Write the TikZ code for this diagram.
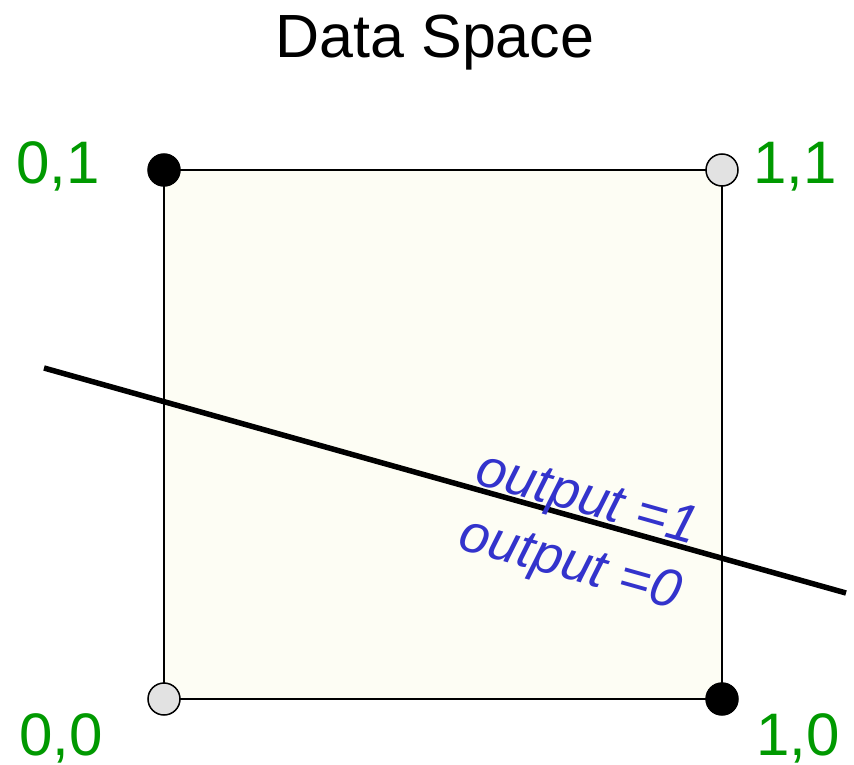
\documentclass[tikz,border=0pt]{standalone}
\usepackage{fontspec}
\setmainfont{Liberation Sans}
\definecolor{lblgreen}{RGB}{0,153,0}
\definecolor{outblue}{RGB}{51,51,204}
\definecolor{sqfill}{RGB}{253,253,244}
\definecolor{dotgrey}{RGB}{226,226,226}
\begin{document}
\begin{tikzpicture}[x=1pt,y=-1pt,
  corner/.style={text=lblgreen,font=\fontsize{60}{70}\selectfont,anchor=base,inner sep=0,text depth=0pt},
  outlbl/.style={text=outblue,font=\itshape\fontsize{54}{60}\selectfont,anchor=base,inner sep=0,rotate=-15.67},
  blackdot/.style={circle,draw=black,line width=1.5pt,fill=black,minimum size=32pt,inner sep=0},
  greydot/.style={circle,draw=black,line width=1.5pt,fill=dotgrey,minimum size=32pt,inner sep=0}]
\useasboundingbox (0,0) rectangle (854,765);
\coordinate (c01) at (164,170);
\coordinate (c11) at (722,170);
\coordinate (c00) at (164,699);
\coordinate (c10) at (722,699);
\coordinate (la) at (44,368);
\coordinate (lb) at (846,593);
\fill[sqfill] (c01) rectangle (c10);
\draw[line width=1.5pt] (c01) -- (c11) -- (c10) -- (c00) -- cycle;
\draw[line width=5.5pt] (la) -- (lb);
\node[blackdot] (d01) at (c01) {};
\node[greydot] (d11) at (c11) {};
\node[greydot] (d00) at (c00) {};
\node[blackdot] (d10) at (c10) {};
\node[anchor=base,inner sep=0,font=\fontsize{61}{70}\selectfont] (title) at (435,58) {Data Space};
\node[corner] (t01) at (58,183) {0,1};
\node[corner] (t11) at (795,183) {1,1};
\node[corner] (t00) at (61,755) {0,0};
\node[corner] (t10) at (798,755) {1,0};
\node[outlbl] (o1) at (583,514) {output =1};
\node[outlbl] (o0) at (566,579) {output =0};
\end{tikzpicture}
\end{document}
